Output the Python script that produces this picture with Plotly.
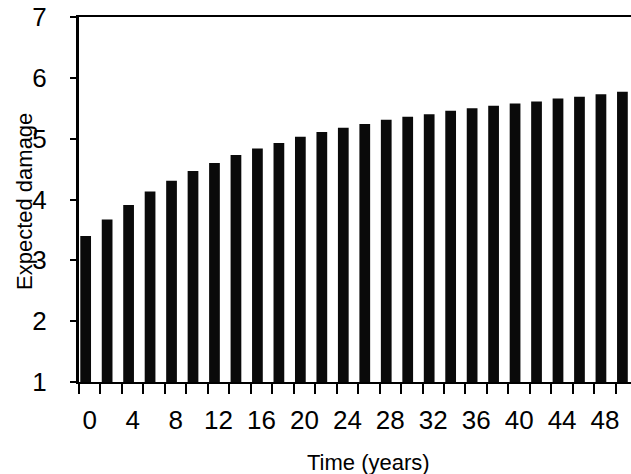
import plotly.graph_objects as go

years = list(range(0, 52, 2))
expected_damage = [3.40, 3.67, 3.91, 4.13, 4.31, 4.47, 4.60, 4.73, 4.84, 4.93,
                   5.03, 5.11, 5.18, 5.24, 5.31, 5.36, 5.40, 5.46, 5.50, 5.54,
                   5.58, 5.61, 5.66, 5.69, 5.73, 5.77]
x_tick_labels = list(range(0, 52, 4))
y_ticks = [1, 2, 3, 4, 5, 6, 7]
boundaries = [y - 1 for y in years]

fig = go.Figure()
fig.add_trace(go.Bar(
    x=years, y=expected_damage,
    width=1.0, offset=-0.88,
    marker=dict(color="#0a0a0a", line=dict(width=0)),
    showlegend=False,
))

FONT = "Liberation Sans, Arial, sans-serif"
pw = 631 - 79
ph = 474 - 17 - 92
fig.update_layout(
    width=631, height=474,
    margin=dict(l=79, r=0, t=17, b=92),
    paper_bgcolor="white", plot_bgcolor="white",
    font=dict(family=FONT, color="black"),
    xaxis=dict(
        range=[-1, 50.42],
        tickmode="array", tickvals=x_tick_labels,
        ticktext=[str(v) for v in x_tick_labels],
        ticks="", ticklen=0,
        tickfont=dict(size=26, family=FONT),
        ticklabelstandoff=14,
        showline=True, linecolor="black", linewidth=2, mirror=True,
        showgrid=False, zeroline=False,
        minor=dict(tickmode="array", tickvals=boundaries, ticks="outside",
                   ticklen=10, tickwidth=1.5, tickcolor="black", showgrid=False),
    ),
    yaxis=dict(
        range=[1, 7],
        tickmode="array", tickvals=y_ticks,
        ticks="outside", ticklen=6, tickwidth=1.5, tickcolor="black",
        tickfont=dict(size=26, family=FONT),
        ticklabelstandoff=18,
        showline=True, linecolor="black", linewidth=3,
        showgrid=False, zeroline=False,
    ),
    annotations=[
        dict(text="Time (years)", xref="paper", yref="paper",
             x=(368 - 79) / pw, y=(474 - 92 - 462) / ph,
             xanchor="center", yanchor="middle",
             showarrow=False, font=dict(size=22, family=FONT)),
        dict(text="Expected damage", xref="paper", yref="paper",
             x=(24 - 79) / pw, y=(474 - 92 - 202) / ph,
             xanchor="center", yanchor="middle", textangle=-90,
             showarrow=False, font=dict(size=22, family=FONT)),
    ],
)

fig.write_html("out.html")
